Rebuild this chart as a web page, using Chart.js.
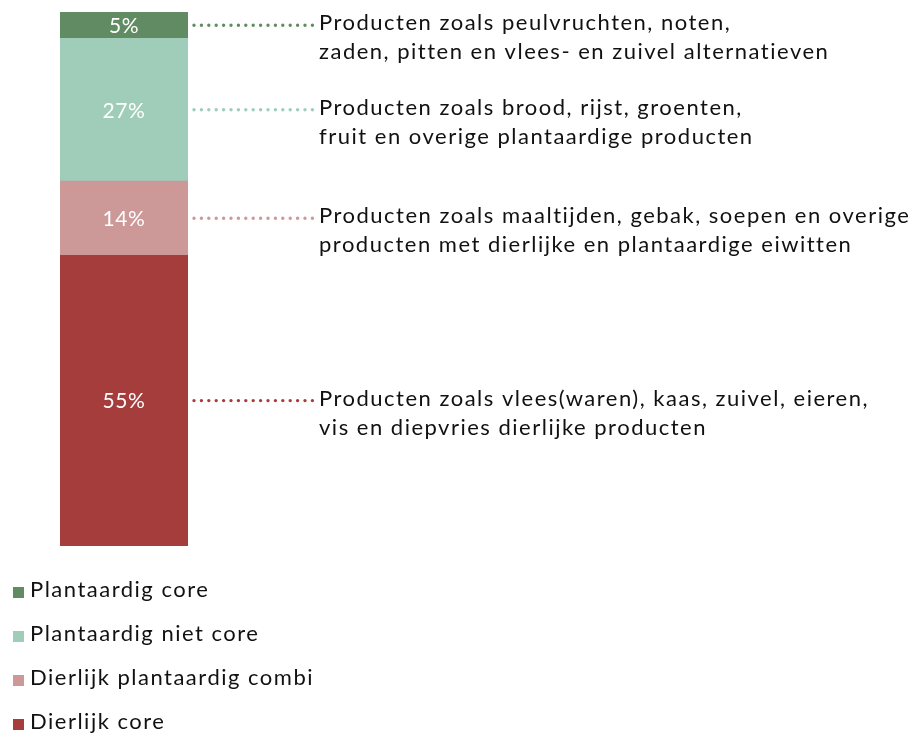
<!DOCTYPE html>
<html>
<head>
<meta charset="utf-8">
<title>Productverdeling</title>
<script src="https://cdn.jsdelivr.net/npm/chart.js"></script>
<style>
  body { margin: 0; background: #fff; }
  #wrap { width: 921px; height: 733px; }
</style>
</head>
<body>
<div id="wrap"><canvas id="chart" width="921" height="733"></canvas></div>
<script>
  // legend order (top of the bar first)
  const categories = ['Plantaardig core', 'Plantaardig niet core', 'Dierlijk plantaardig combi', 'Dierlijk core'];
  const shares = [5, 27, 14, 55];
  const colors = ['#618c63', '#9fcdb9', '#cc9898', '#a63d3d'];
  const notes = [
    ['Producten zoals peulvruchten, noten,', 'zaden, pitten en vlees- en zuivel alternatieven'],
    ['Producten zoals brood, rijst, groenten,', 'fruit en overige plantaardige producten'],
    ['Producten zoals maaltijden, gebak, soepen en overige', 'producten met dierlijke en plantaardige eiwitten'],
    ['Producten zoals vlees(waren), kaas, zuivel, eieren,', 'vis en diepvries dierlijke producten']
  ];

  const FONT = 'Lato, "Open Sans", sans-serif';
  const total = shares.reduce((a, b) => a + b, 0);

  // stacked bars are drawn bottom-up, so reverse for the datasets
  const datasets = categories.map((c, i) => ({
    label: c,
    data: [shares[i]],
    backgroundColor: colors[i],
    borderWidth: 0,
    barPercentage: 1,
    categoryPercentage: 1,
    note: notes[i]
  })).reverse();

  const annotate = {
    id: 'annotate',
    afterDatasetsDraw(chart) {
      const ctx = chart.ctx;
      const area = chart.chartArea;
      chart.data.datasets.forEach((ds, i) => {
        const bar = chart.getDatasetMeta(i).data[0];
        const cy = (bar.y + bar.base) / 2;
        ctx.save();
        // value inside bar
        ctx.fillStyle = '#ffffff';
        ctx.font = '21px ' + FONT;
        ctx.letterSpacing = '0.6px';
        ctx.textAlign = 'center';
        ctx.textBaseline = 'middle';
        ctx.fillText(ds.data[0] + '%', bar.x, cy + 1);
        // dotted connector
        ctx.letterSpacing = '0px';
        ctx.strokeStyle = ds.backgroundColor;
        ctx.lineWidth = 3.4;
        ctx.lineCap = 'round';
        ctx.setLineDash([0, 7.4]);
        ctx.beginPath();
        ctx.moveTo(area.right + 6, cy);
        ctx.lineTo(313, cy);
        ctx.stroke();
        ctx.setLineDash([]);
        // description
        ctx.fillStyle = '#111111';
        ctx.font = '22px ' + FONT;
        ctx.letterSpacing = '1.5px';
        ctx.textAlign = 'left';
        ds.note.forEach((line, k) => ctx.fillText(line, 319, cy - 2 + k * 29));
        ctx.restore();
      });
    },
    afterDraw(chart) {
      const ctx = chart.ctx;
      ctx.save();
      ctx.font = '22px ' + FONT;
      ctx.letterSpacing = '1.5px';
      ctx.textBaseline = 'middle';
      categories.forEach((c, i) => {
        const y = 590 + i * 44;
        ctx.fillStyle = colors[i];
        ctx.fillRect(13, y - 3, 11, 11);
        ctx.fillStyle = '#111111';
        ctx.fillText(c, 30, y);
      });
      ctx.restore();
    }
  };

  new Chart(document.getElementById('chart'), {
    type: 'bar',
    data: { labels: [''], datasets: datasets },
    options: {
      responsive: false,
      animation: false,
      layout: { padding: { left: 60, right: 733, top: 12, bottom: 187 } },
      scales: {
        x: { stacked: true, display: false },
        y: { stacked: true, display: false, min: 0, max: total }
      },
      plugins: { legend: { display: false }, tooltip: { enabled: false } }
    },
    plugins: [annotate]
  });
</script>
</body>
</html>
